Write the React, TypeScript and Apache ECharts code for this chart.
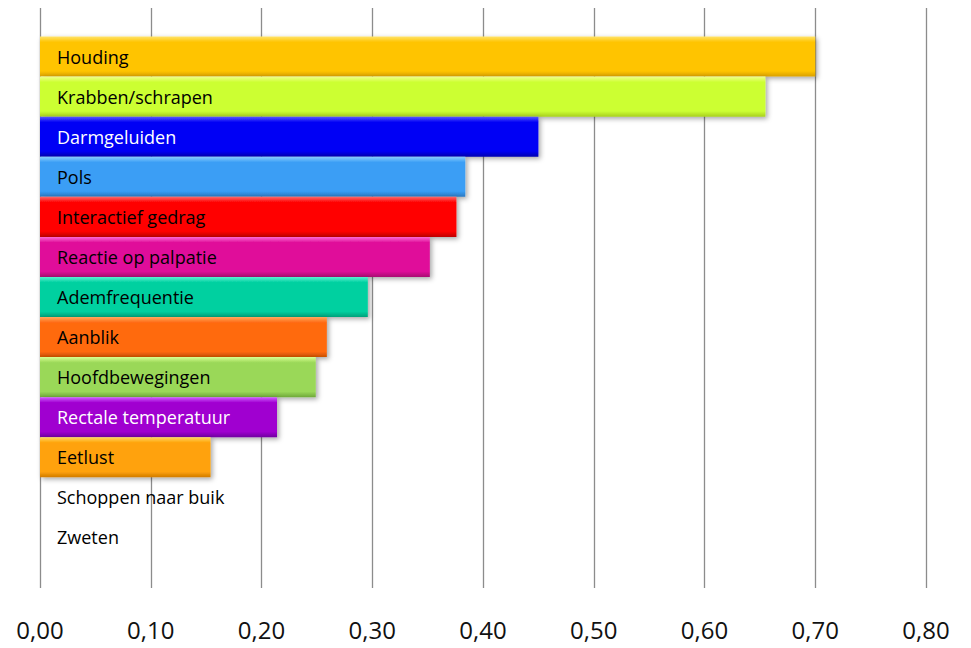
import React, { useEffect, useRef } from "react";
import * as echarts from "echarts";

const categories = [
  "Houding",
  "Krabben/schrapen",
  "Darmgeluiden",
  "Pols",
  "Interactief gedrag",
  "Reactie op palpatie",
  "Ademfrequentie",
  "Aanblik",
  "Hoofdbewegingen",
  "Rectale temperatuur",
  "Eetlust",
  "Schoppen naar buik",
  "Zweten",
];
const values = [0.70, 0.655, 0.45, 0.384, 0.376, 0.352, 0.296, 0.259, 0.249, 0.214, 0.154, 0, 0];
const barColors = [
  ["#FFE36A", "#FFC400", "#D9A000"],
  ["#F2FF8A", "#CCFF33", "#A8D020"],
  ["#5A5AFF", "#0000F5", "#0000B0"],
  ["#8AD0FF", "#3A9EF5", "#2A78C0"],
  ["#FF6A6A", "#FF0000", "#C00000"],
  ["#FF6AD8", "#E0109A", "#A80A72"],
  ["#5AF0D0", "#00D0A0", "#00A07A"],
  ["#FFA860", "#FF6A10", "#C85000"],
  ["#D8FF90", "#9AD858", "#6EA83A"],
  ["#D060FF", "#A000D0", "#7000A0"],
  ["#FFD860", "#FFA20A", "#D07A00"],
  ["#FFFFFF", "#FFFFFF", "#FFFFFF"],
  ["#FFFFFF", "#FFFFFF", "#FFFFFF"],
];
const labelColors = [
  "#000", "#000", "#FFFFFF", "#000", "#000", "#000", "#000",
  "#000", "#000", "#FFFFFF", "#000", "#000", "#000",
];
const xTicks = { min: 0, max: 0.8, interval: 0.1 };

export default function App() {
  const ref = useRef<HTMLDivElement>(null);
  useEffect(() => {
    if (!ref.current) return;
    const chart = echarts.init(ref.current, null, { renderer: "svg" });
    const fontFamily = "'Open Sans', Lato, sans-serif";
    chart.setOption({
      animation: false,
      textStyle: { fontFamily },
      grid: [
        { left: 40, right: 45, top: 36.5, bottom: 90.5 },
        { left: 40, right: 45, top: 8, bottom: 60 },
      ],
      xAxis: [
        {
          gridIndex: 0,
          type: "value",
          min: xTicks.min,
          max: xTicks.max,
          interval: xTicks.interval,
          show: false,
        },
        {
          gridIndex: 1,
          type: "value",
          min: xTicks.min,
          max: xTicks.max,
          interval: xTicks.interval,
          axisLine: { show: false },
          axisTick: { show: false },
          splitLine: { show: true, lineStyle: { color: "#8C8C8C", width: 1.3 } },
          axisLabel: {
            margin: 29,
            fontSize: 24,
            color: "#111",
            fontFamily,
            formatter: (v: number) => v.toFixed(2).replace(".", ","),
          },
        },
      ],
      yAxis: [
        {
          gridIndex: 0,
          type: "category",
          data: categories,
          inverse: true,
          show: false,
        },
        { gridIndex: 1, type: "value", show: false },
      ],
      series: [
        {
          type: "bar",
          xAxisIndex: 0,
          yAxisIndex: 0,
          barCategoryGap: "0%",
          z: 3,
          data: values.map((v, i) => ({
            value: v,
            itemStyle: {
              color: new echarts.graphic.LinearGradient(0, 0, 0, 1, [
                { offset: 0, color: barColors[i][0] },
                { offset: 0.14, color: barColors[i][1] },
                { offset: 0.86, color: barColors[i][1] },
                { offset: 1, color: barColors[i][2] },
              ]),
              shadowBlur: v > 0 ? 5 : 0,
              shadowOffsetX: 2,
              shadowOffsetY: 2,
              shadowColor: "rgba(0,0,0,0.35)",
            },
            label: {
              show: true,
              position: "insideLeft",
              distance: 17,
              color: labelColors[i],
              fontSize: 18,
              fontFamily,
              formatter: categories[i],
            },
          })),
        },
      ],
    });
    return () => chart.dispose();
  }, []);
  return <div ref={ref} style={{ width: 971, height: 648, position: "absolute", left: 0, top: 0 }} />;
}
